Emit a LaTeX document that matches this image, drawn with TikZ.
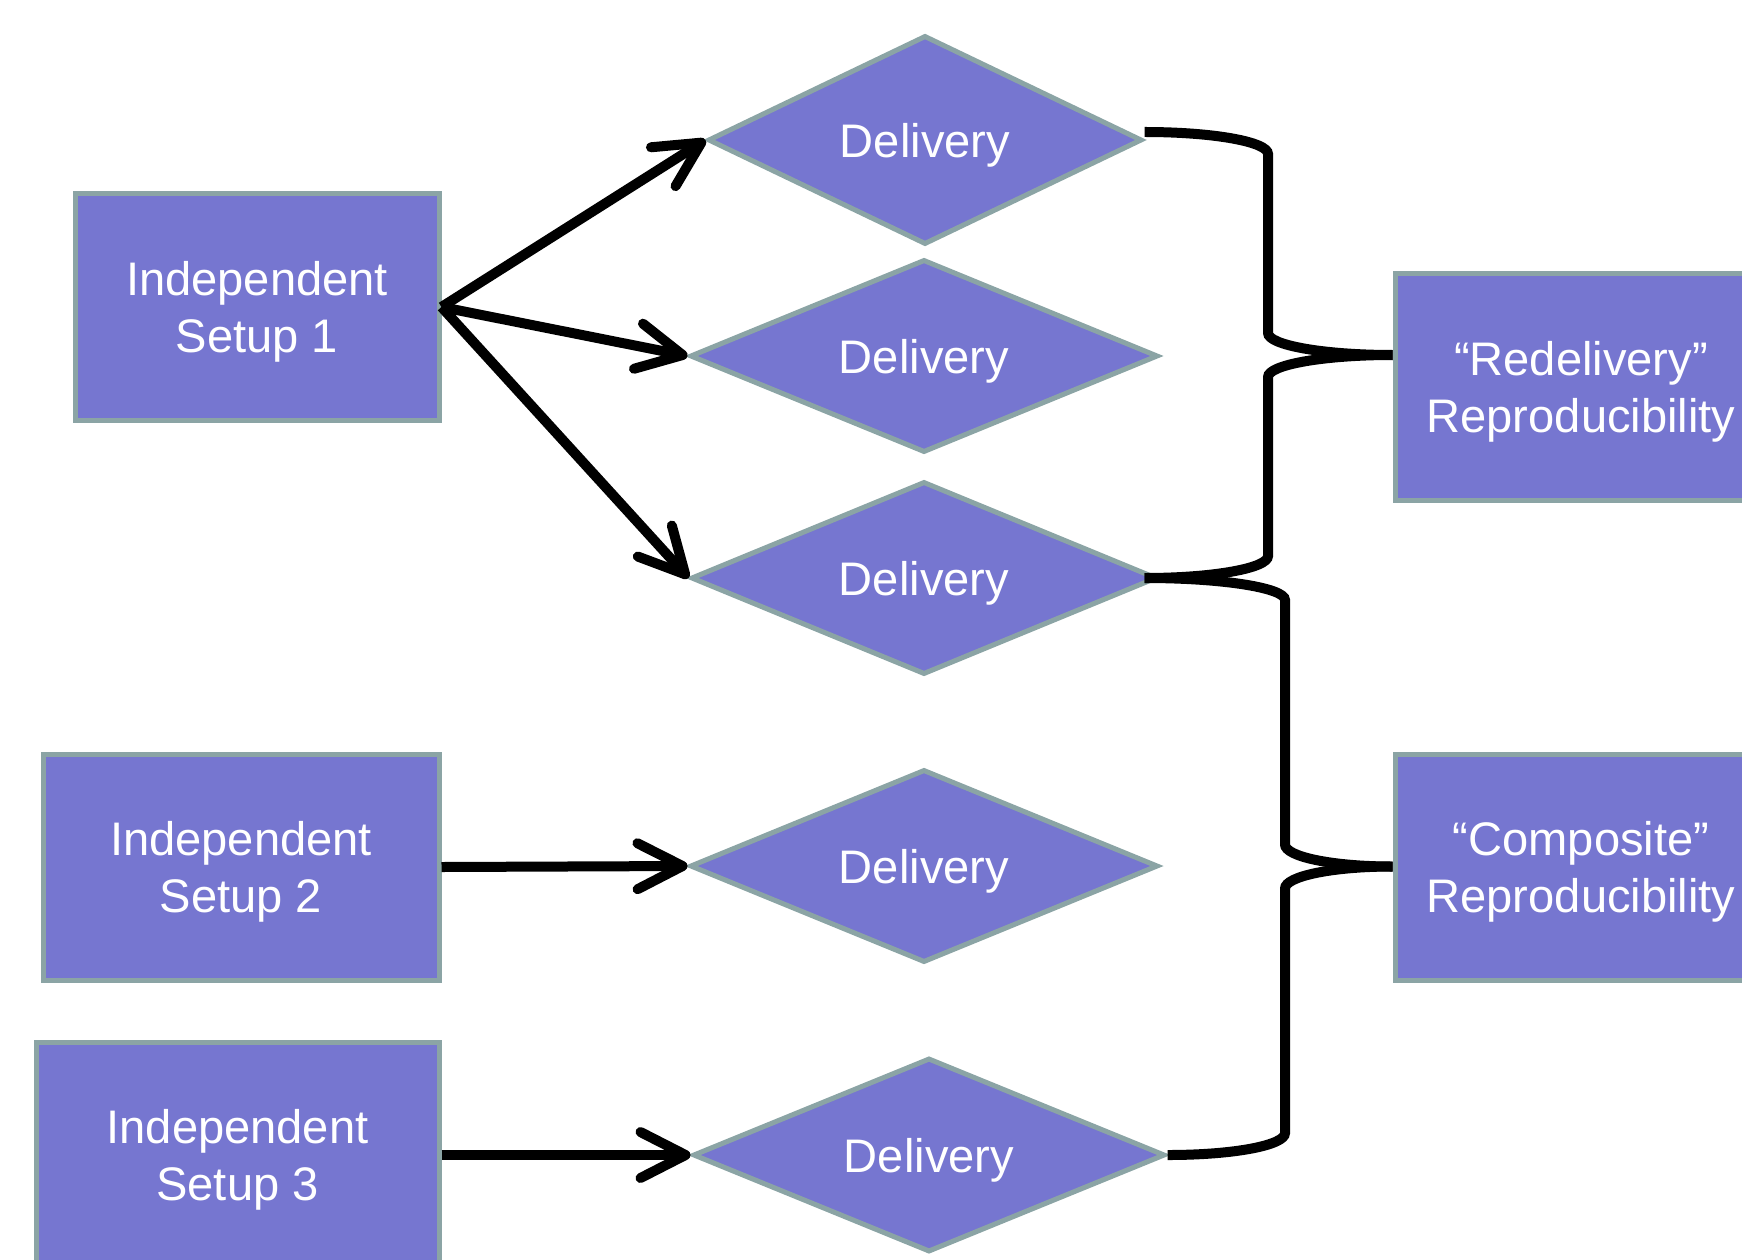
\documentclass[tikz,border=0pt]{standalone}
\usepackage{fontspec}
\setmainfont{Liberation Sans}
\usetikzlibrary{shapes.geometric,arrows.meta,calc}
\definecolor{boxfill}{RGB}{118,118,208}
\definecolor{boxline}{RGB}{139,164,165}
\tikzset{
  setup/.style = {
    draw=boxline, fill=boxfill, line width=0.05cm, text=white,
    minimum height=2.26cm, inner sep=0pt, align=center, text depth=-0.04cm,
    font=\fontsize{13.4}{16.2}\selectfont
  },
  delivery/.style = {
    diamond, aspect=2.4, draw=boxline, fill=boxfill, line width=0.05cm,
    text=white, inner sep=0pt, text depth=-0.04cm,
    font=\fontsize{13.4}{16.2}\selectfont
  },
  flow/.style = {line width=0.1cm, -{Straight Barb[length=4.5mm,width=4.6mm,round]}},
  brace/.style = {line width=0.1cm}
}

\begin{document}
\begin{tikzpicture}
  \useasboundingbox (0,0) rectangle (17.42,-12.59);
  \clip (0,0) rectangle (17.42,-12.59);
  %
  \node[setup, minimum width=3.64cm] (setupA) at (2.57,-3.07) {Independent\\Setup 1};
  \node[setup, minimum width=3.96cm] (setupB) at (2.41,-8.67) {Independent\\Setup 2};
  \node[setup, minimum width=4.03cm] (setupC) at (2.375,-11.55) {Independent\\Setup 3};
  %
  \node[delivery, minimum width=4.34cm, minimum height=2.09cm] (dA) at (9.25,-1.40) {Delivery};
  \node[delivery, minimum width=4.68cm, minimum height=1.93cm] (dB) at (9.24,-3.56) {Delivery};
  \node[delivery, minimum width=4.66cm, minimum height=1.93cm] (dC) at (9.24,-5.78) {Delivery};
  \node[delivery, minimum width=4.68cm, minimum height=1.93cm] (dD) at (9.24,-8.66) {Delivery};
  \node[delivery, minimum width=4.72cm, minimum height=1.94cm] (dE) at (9.29,-11.55) {Delivery};
  %
  \node[setup, minimum width=3.72cm] (redel) at (15.81,-3.87) {``Redelivery''\\Reproducibility};
  \node[setup, minimum width=3.72cm] (compo) at (15.81,-8.67) {``Composite''\\Reproducibility};
  %
  \draw[flow] (setupA.east) -- (dA.west);
  \draw[flow] (setupA.east) -- (dB.west);
  \draw[flow] (setupA.east) -- (dC.west);
  \draw[flow] (setupB.east) -- (dD.west);
  \draw[flow] (setupC.east) -- (dE.west);
  %
  \coordinate (midA) at ($([yshift=0.08cm]dA.east)!.5!(dC.east)$);
  \coordinate (midB) at ($(dC.east)!.5!(dE.east)$);
  %
  \draw[brace] ([yshift=0.08cm]dA.east) .. controls +(0.7,0) and +(0,0.12) .. (12.68,-1.54)
    -- (12.68,-3.33) .. controls +(0,-0.12) and +(-0.7,0) .. (redel.west |- midA);
  \draw[brace] ([xshift=-1.5mm]dC.east) .. controls +(0.7,0) and +(0,-0.12) .. (12.68,-5.56)
    -- (12.68,-3.77) .. controls +(0,0.12) and +(-0.7,0) .. (redel.west |- midA);
  %
  \draw[brace] ([xshift=-1.5mm]dC.east) .. controls +(0.79,0) and +(0,0.12) .. (12.85,-6.0)
    -- (12.85,-8.445) .. controls +(0,-0.12) and +(-0.61,0) .. (compo.west |- midB);
  \draw[brace] (dE.east) .. controls +(0.68,0) and +(0,-0.12) .. (12.85,-11.33)
    -- (12.85,-8.885) .. controls +(0,0.12) and +(-0.61,0) .. (compo.west |- midB);
\end{tikzpicture}
\end{document}
